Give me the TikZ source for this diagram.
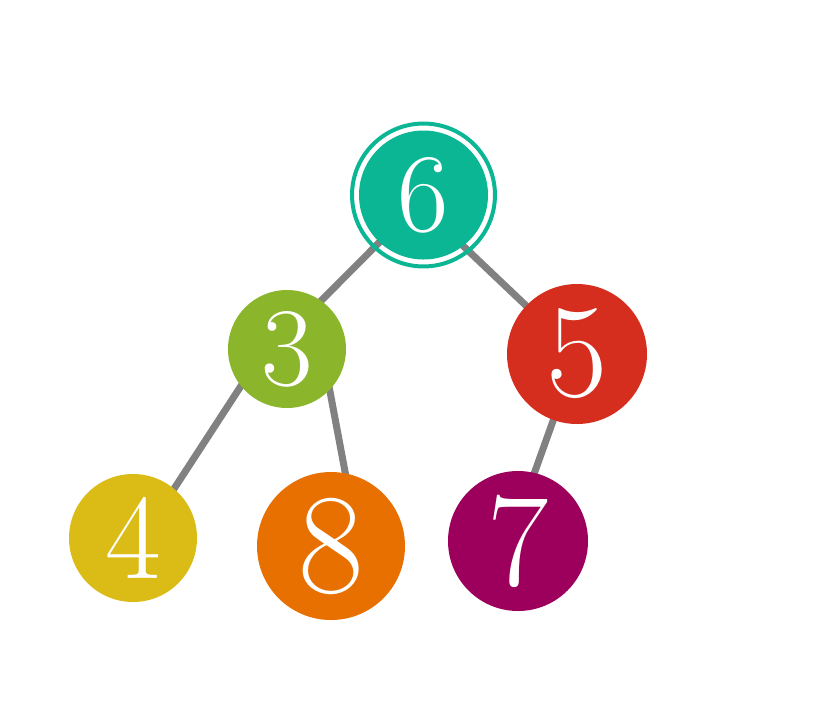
\documentclass[tikz,border=0pt]{standalone}
\usepackage{fontspec}
\usetikzlibrary{calc,backgrounds}
\definecolor{cteal}{HTML}{0BB694}
\definecolor{cgreen}{HTML}{8BB52B}
\definecolor{cred}{HTML}{D62E1E}
\definecolor{cyellow}{HTML}{DBBB16}
\definecolor{corange}{HTML}{E87000}
\definecolor{cpurple}{HTML}{9C005C}
\definecolor{cedge}{HTML}{818181}
\tikzset{
  treenode/.style={circle, inner sep=0pt, text=white},
  treeedge/.style={draw=cedge, line width=5.25pt},
}
\newcommand{\dsize}[1]{\fontsize{#1}{#1}\selectfont}
\begin{document}
\begin{tikzpicture}[x=0.75pt, y=-0.75pt]
\useasboundingbox (0,0) rectangle (834,711);
\node[treenode, fill=cteal, minimum size=96.75pt, font=\dsize{84pt}] (root) at (423.5,195) {6};
\node[treenode, fill=cgreen, minimum size=88.5pt, font=\dsize{84pt}] (n3) at (287,349) {3};
\node[treenode, fill=cred, minimum size=105pt, font=\dsize{100pt}] (n5) at (577,354) {5};
\node[treenode, fill=cyellow, minimum size=96pt, font=\dsize{91pt}] (n4) at (133,538) {4};
\node[treenode, fill=corange, minimum size=111pt, font=\dsize{107pt}] (n8) at (331,546) {8};
\node[treenode, fill=cpurple, minimum size=105pt, font=\dsize{100pt}] (n7) at (518,541) {7};
\draw[cteal, line width=3pt] (root.center) circle[radius=53.6pt];
\begin{pgfonlayer}{background}
\draw[treeedge] ($(root.center)+(3,0)$) -- ($(n3.center)+(-14,0)$);
\draw[treeedge] ($(root.center)+(-14,0)$) -- (n5.center);
\draw[treeedge] ($(n3.center)+(-22,0)$) -- ($(n4.center)+(9,0)$);
\draw[treeedge] ($(n3.center)+(35,0)$) -- ($(n8.center)+(28,0)$);
\draw[treeedge] (n5.center) -- ($(n7.center)+(-8,0)$);
\end{pgfonlayer}
\end{tikzpicture}
\end{document}
